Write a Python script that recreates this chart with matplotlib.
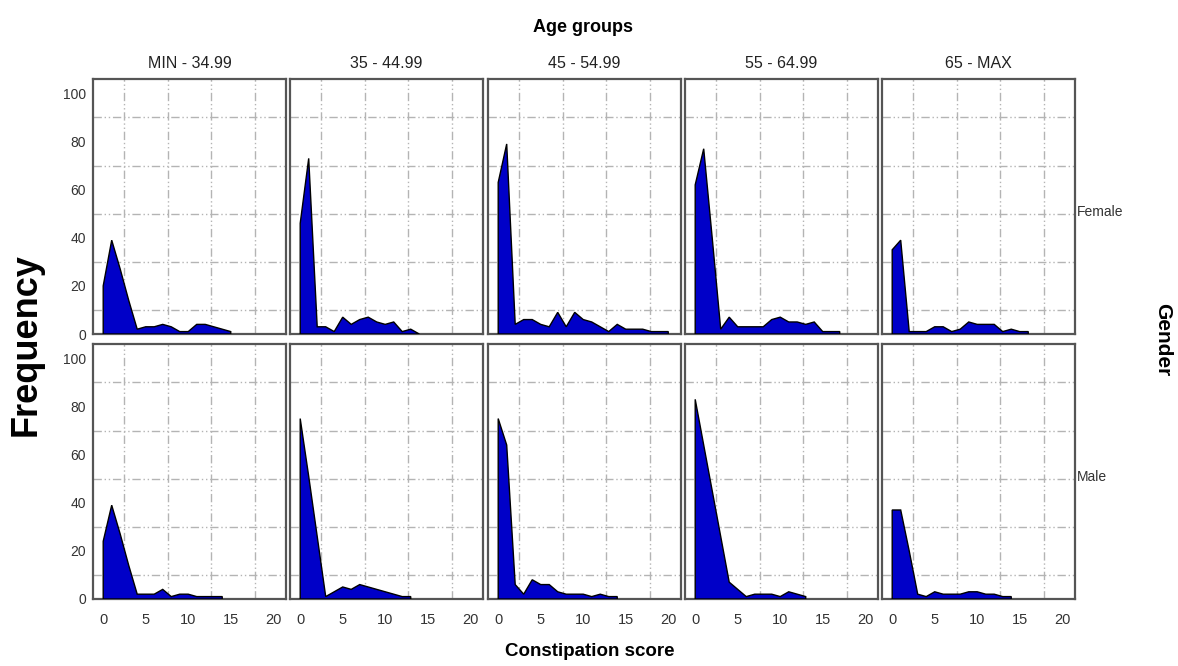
import numpy as np
import matplotlib
matplotlib.use("Agg")
import matplotlib.pyplot as plt

plt.rcParams['font.family'] = ['Liberation Sans', 'DejaVu Sans']

# ---- data: frequency of constipation score (0, 1, 2, ...) per age group ----
age_groups = ['MIN - 34.99', '35 - 44.99', '45 - 54.99', '55 - 64.99', '65 - MAX']
genders = ['Female', 'Male']

female_1 = [20, 39, 27, 14, 2, 3, 3, 4, 3, 1, 1, 4, 4, 3, 2, 1]
female_2 = [46, 73, 3, 3, 1, 7, 4, 6, 7, 5, 4, 5, 1, 2, 0]
female_3 = [63, 79, 4, 6, 6, 4, 3, 9, 3, 9, 6, 5, 3, 1, 4, 2, 2, 2, 1, 1, 1]
female_4 = [62, 77, 40, 2, 7, 3, 3, 3, 3, 6, 7, 5, 5, 4, 5, 1, 1, 1]
female_5 = [35, 39, 1, 1, 1, 3, 3, 1, 2, 5, 4, 4, 4, 1, 2, 1, 1]

male_1 = [24, 39, 27, 14, 2, 2, 2, 4, 1, 2, 2, 1, 1, 1, 1]
male_2 = [75, 51, 26, 1, 3, 5, 4, 6, 5, 4, 3, 2, 1, 1]
male_3 = [75, 64, 6, 2, 8, 6, 6, 3, 2, 2, 2, 1, 2, 1, 1]
male_4 = [83, 64, 45, 26, 7, 4, 1, 2, 2, 2, 1, 3, 2, 1]
male_5 = [37, 37, 20, 2, 1, 3, 2, 2, 2, 3, 3, 2, 2, 1, 1]

female = [female_1, female_2, female_3, female_4, female_5]
male = [male_1, male_2, male_3, male_4, male_5]

x_ticks = [0, 5, 10, 15, 20]
y_ticks = [0, 20, 40, 60, 80, 100]
x_grid = [2.5, 7.6, 12.7, 17.8]
y_grid = [10, 30, 50, 70, 90]

# ---- figure ----
W, H = 1178, 666
fig = plt.figure(figsize=(W / 100, H / 100), dpi=100)

lefts = [93, 290, 488, 685, 882]
pw = 193
rows_top = [79, 344]
ph = 255

fill_col = '#0000c8'
grid_col = '#b4b4b4'
frame_col = '#555555'

for r, data in enumerate([female, male]):
    for c in range(5):
        l = lefts[c] / W
        b = 1 - (rows_top[r] + ph) / H
        ax = fig.add_axes([l, b, pw / W, ph / H])
        y = np.array(data[c], dtype=float)
        x = np.arange(len(y))
        ax.fill(np.r_[x[0], x, x[-1]], np.r_[0, y, 0], facecolor=fill_col,
                edgecolor='black', linewidth=1.0, zorder=3)
        for g in x_grid:
            ax.axvline(g, color=grid_col, lw=1.0, ls=(0, (6, 2, 1, 2, 1, 2)), zorder=1)
        for g in y_grid:
            ax.axhline(g, color=grid_col, lw=1.0, ls=(0, (6, 2, 1, 2, 1, 2)), zorder=1)
        ax.set_xlim(-1.2, 21.5)
        ax.set_ylim(0, 106)
        ax.set_xticks(x_ticks)
        ax.set_yticks(y_ticks)
        ax.tick_params(axis='y', length=0, labelsize=10, colors='#333333', pad=5)
        ax.tick_params(axis='x', length=0, labelsize=10.5, colors='#333333', pad=10)
        if c > 0:
            ax.set_yticklabels([])
        if r == 0:
            ax.set_xticklabels([])
            ax.set_title(age_groups[c], fontsize=11.5, color='#222222', pad=8)
        for s in ax.spines.values():
            s.set_color(frame_col)
            s.set_linewidth(1.6)
        if c == 4:
            ax.text(1.012, 0.48, genders[r], transform=ax.transAxes, fontsize=10,
                    color='#333333', ha='left', va='center')

fig.text(583 / W, 1 - 27 / H, 'Age groups', fontsize=13, fontweight='bold',
         ha='center', va='center')
fig.text(590 / W, 1 - 652 / H, 'Constipation score', fontsize=13.5, fontweight='bold',
         ha='center', va='center')
fig.text(26 / W, 1 - 345 / H, 'Frequency', fontsize=26, fontweight='bold',
         rotation=90, ha='center', va='center')
fig.text(1163 / W, 1 - 340 / H, 'Gender', fontsize=15, fontweight='bold',
         rotation=270, ha='center', va='center')

fig.savefig('out.png', dpi=100)
